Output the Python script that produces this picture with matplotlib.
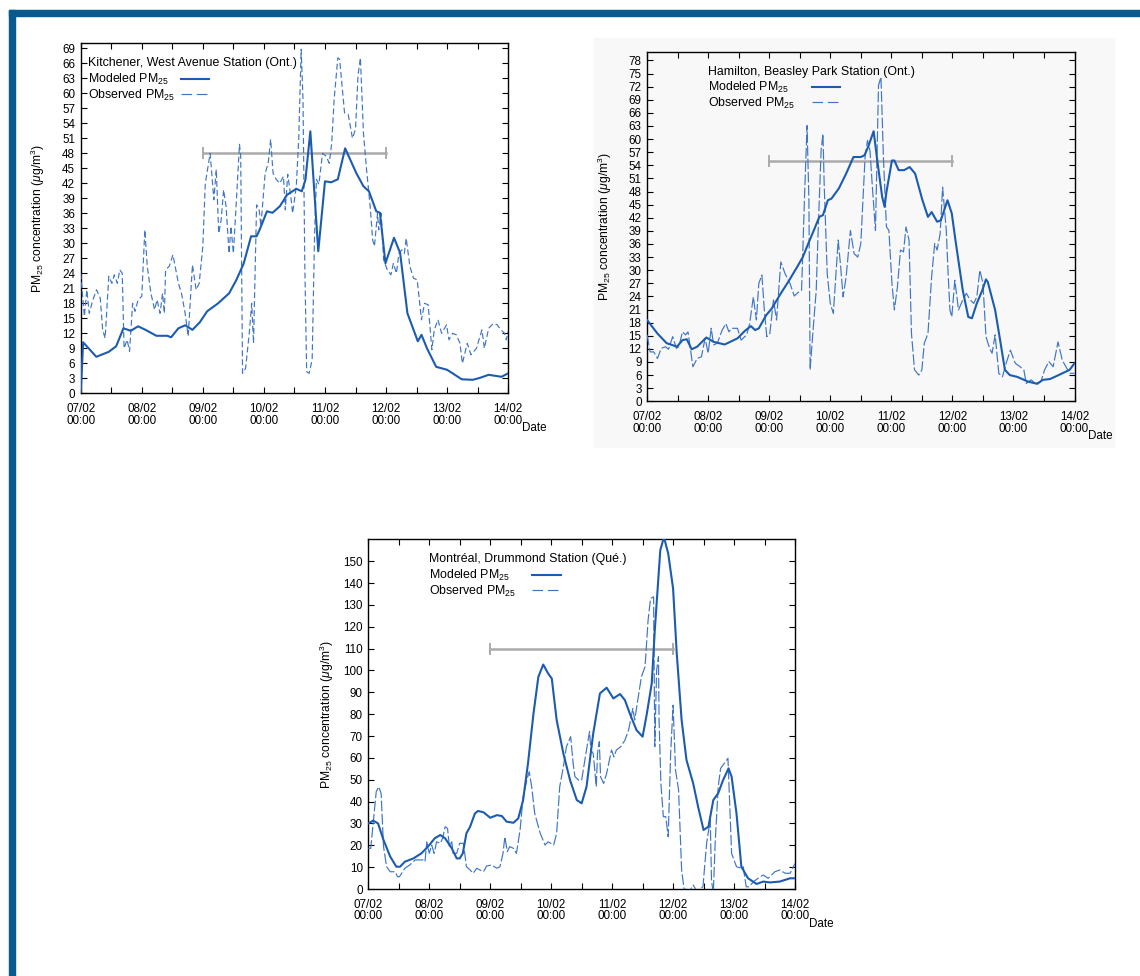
import matplotlib
matplotlib.use('Agg')
import matplotlib.pyplot as plt
from matplotlib.patches import Rectangle

plt.rcParams['font.family'] = ['Liberation Sans', 'DejaVu Sans']
plt.rcParams['mathtext.fontset'] = 'custom'
plt.rcParams['mathtext.rm'] = 'Liberation Sans'
plt.rcParams['mathtext.it'] = 'Liberation Sans:italic'
plt.rcParams['mathtext.default'] = 'regular'

# ---------------- data (time in days since 07/02 00:00) ----------------
day_ticks = [0, 1, 2, 3, 4, 5, 6, 7]
day_labels = ['07/02\n00:00', '08/02\n00:00', '09/02\n00:00', '10/02\n00:00',
              '11/02\n00:00', '12/02\n00:00', '13/02\n00:00', '14/02\n00:00']
half_day_ticks = [0.5, 1.5, 2.5, 3.5, 4.5, 5.5, 6.5]

bar_start = 2.0
bar_end = 5.0

# Kitchener
kit_title = 'Kitchener, West Avenue Station (Ont.)'
kit_yticks = list(range(0, 70, 3))
kit_ymax = 70
kit_bar = 48
kit_mod_t = [0, 0.04, 0.256, 0.46, 0.58, 0.70, 0.82, 0.94, 1.06, 1.24, 1.42, 1.48, 1.60, 1.71,
             1.83, 1.95, 2.07, 2.25, 2.43, 2.55, 2.67, 2.79, 2.88, 2.93, 3.05, 3.14, 3.26,
             3.38, 3.53, 3.62, 3.68, 3.76, 3.89, 4.00, 4.10, 4.21, 4.33, 4.51, 4.63, 4.72,
             4.84, 4.90, 4.99, 5.13, 5.23, 5.35, 5.52, 5.58, 5.67, 5.82, 6.00, 6.24, 6.42,
             6.54, 6.68, 6.89, 7.0]
kit_mod_v = [0, 10.2, 7.3, 8.3, 9.4, 13.0, 12.5, 13.4, 12.7, 11.5, 11.5, 11.2, 13.0, 13.6,
             12.7, 14.2, 16.4, 18.0, 20.0, 22.7, 26.0, 31.4, 31.4, 32.7, 36.4, 36.1, 37.4,
             39.7, 40.9, 40.4, 42.7, 52.4, 28.4, 42.4, 42.2, 42.8, 49.0, 44.1, 41.4, 40.4,
             36.4, 36.1, 26.0, 31.1, 28.1, 16.0, 10.4, 11.7, 9.0, 5.3, 4.7, 2.8, 2.7,
             3.1, 3.7, 3.3, 4.0]
kit_obs_t = [0, 0.06, 0.10, 0.14, 0.20, 0.26, 0.32, 0.36, 0.40, 0.46, 0.51, 0.55, 0.60, 0.64,
             0.68, 0.71, 0.76, 0.80, 0.85, 0.89, 0.94, 1.00, 1.05, 1.09, 1.15, 1.21, 1.25,
             1.30, 1.34, 1.37, 1.39, 1.45, 1.51, 1.60, 1.65, 1.71, 1.76, 1.83, 1.89, 1.94,
             2.00, 2.04, 2.12, 2.18, 2.22, 2.26, 2.30, 2.34, 2.38, 2.43, 2.46, 2.50, 2.55,
             2.60, 2.62, 2.65, 2.70, 2.76, 2.80, 2.83, 2.88, 2.92, 2.95, 3.02, 3.07, 3.11,
             3.15, 3.20, 3.26, 3.32, 3.35, 3.39, 3.44, 3.47, 3.53, 3.57, 3.61, 3.64, 3.67,
             3.70, 3.74, 3.79, 3.83, 3.86, 3.90, 3.96, 4.02, 4.07, 4.11, 4.15, 4.21, 4.24,
             4.32, 4.38, 4.45, 4.50, 4.54, 4.58, 4.63, 4.68, 4.74, 4.78, 4.81, 4.86, 4.88,
             4.92, 4.96, 5.02, 5.08, 5.12, 5.17, 5.21, 5.26, 5.30, 5.33, 5.39, 5.45, 5.51,
             5.58, 5.63, 5.69, 5.75, 5.79, 5.85, 5.91, 5.99, 6.03, 6.09, 6.15, 6.21, 6.25,
             6.33, 6.39, 6.48, 6.57, 6.61, 6.68, 6.76, 6.82, 6.88, 6.94, 6.97, 7.0]
kit_obs_v = [24, 15.4, 20.7, 16, 18.7, 20.7, 19, 12.7, 11, 23.4, 22, 23.7, 22, 24.7,
             24, 9, 10.7, 8.4, 18, 16.4, 18.7, 19.4, 32.7, 25.4, 20, 16.7, 18.7,
             16, 20, 16, 24.7, 25.4, 27.7, 22, 20, 16, 11.4, 25.7, 20.7, 22,
             29.4, 42, 48, 38.7, 44.8, 32, 34.7, 40.7, 37.4, 28, 33.4, 28, 38.7,
             49.8, 47.4, 4, 5, 12, 18, 10, 37.7, 37, 33.4, 44, 46, 50.8,
             44, 42.8, 42, 43.4, 36.7, 43.8, 39.4, 36, 41.4, 50.8, 68.8, 58.8, 25.4,
             4.3, 4, 6.7, 32, 42.8, 41.8, 48, 47.4, 46, 50, 58.8, 67.1, 66.8,
             56.1, 55.8, 51, 52.8, 63.5, 67.1, 52, 44.8, 37.4, 30.7, 29.4, 36, 32.7,
             36, 26.7, 24.7, 23.7, 26, 24, 28, 28.7, 28, 31, 25.4, 23, 22.7,
             14.7, 18, 17.7, 8.7, 12.7, 14.7, 12, 13.7, 10.7, 12, 11.7, 10, 6,
             10, 7.7, 9, 12.7, 9, 13, 14, 13.7, 12.7, 12, 10.7, 12.4]

# Hamilton
ham_title = 'Hamilton, Beasley Park Station (Ont.)'
ham_yticks = list(range(0, 79, 3))
ham_ymax = 80
ham_bar = 55
ham_mod_t = [0, 0.17, 0.32, 0.49, 0.58, 0.65, 0.73, 0.82, 0.97, 1.09, 1.27, 1.48, 1.60, 1.70,
             1.77, 1.83, 1.95, 2.04, 2.19, 2.31, 2.46, 2.55, 2.64, 2.73, 2.82, 2.88, 2.96,
             3.02, 3.14, 3.26, 3.38, 3.50, 3.56, 3.62, 3.71, 3.77, 3.85, 3.89, 3.92, 4.01,
             4.05, 4.12, 4.21, 4.30, 4.39, 4.51, 4.60, 4.66, 4.75, 4.81, 4.92, 4.99, 5.05,
             5.17, 5.26, 5.32, 5.40, 5.49, 5.55, 5.58, 5.70, 5.79, 5.86, 5.94, 6.06, 6.24,
             6.39, 6.48, 6.60, 6.74, 6.92, 7.0]
ham_mod_v = [18.6, 15.5, 13.3, 12.5, 14, 14.2, 11.9, 12.5, 14.6, 13.6, 13, 14.4, 16.1, 17.2,
             16.3, 16.7, 19.7, 21.2, 24.7, 27.3, 30.8, 33, 36.1, 39.1, 42.2, 42.6, 46,
             46.4, 48.7, 52.1, 55.9, 55.9, 56.3, 58.2, 61.8, 55.1, 46.8, 44.5, 47.9, 55.1,
             55.1, 52.9, 52.9, 53.6, 52.1, 46, 42.2, 43.3, 41.1, 41.4, 46, 43, 36.9,
             25.4, 19.3, 19, 22.4, 25.4, 27.9, 27.3, 20.9, 13.3, 7.2, 6, 5.6, 4.5,
             4, 4.9, 5.1, 6, 7.2, 8.7]
ham_obs_t = [0, 0.05, 0.11, 0.17, 0.23, 0.30, 0.35, 0.42, 0.48, 0.52, 0.58, 0.63, 0.67, 0.75,
             0.82, 0.89, 0.95, 1.00, 1.05, 1.09, 1.15, 1.23, 1.29, 1.34, 1.39, 1.48, 1.54,
             1.63, 1.68, 1.74, 1.79, 1.83, 1.88, 1.92, 1.96, 2.01, 2.07, 2.12, 2.19, 2.26,
             2.34, 2.41, 2.49, 2.53, 2.58, 2.62, 2.65, 2.67, 2.71, 2.77, 2.80, 2.85, 2.88,
             2.90, 2.95, 3.00, 3.05, 3.10, 3.13, 3.17, 3.21, 3.26, 3.33, 3.39, 3.45, 3.50,
             3.57, 3.61, 3.65, 3.69, 3.74, 3.79, 3.83, 3.87, 3.92, 3.96, 4.01, 4.05, 4.10,
             4.15, 4.20, 4.24, 4.29, 4.33, 4.38, 4.45, 4.50, 4.54, 4.60, 4.66, 4.71, 4.75,
             4.80, 4.84, 4.90, 4.93, 4.96, 4.99, 5.04, 5.10, 5.17, 5.23, 5.29, 5.35, 5.40,
             5.45, 5.50, 5.55, 5.61, 5.65, 5.70, 5.76, 5.82, 5.88, 5.95, 6.03, 6.11, 6.17,
             6.21, 6.29, 6.36, 6.45, 6.51, 6.58, 6.65, 6.73, 6.80, 6.86, 6.92, 7.0]
ham_obs_v = [15.2, 11.3, 11.3, 9.8, 12.1, 12.5, 11.9, 14.8, 12.1, 12.5, 15.9, 15.2, 15.9, 7.9,
             9.8, 10.2, 14.4, 11, 16.7, 12.9, 13.3, 16.3, 17.8, 15.9, 16.7, 16.7, 14,
             15.2, 17.8, 23.9, 18.6, 27, 28.9, 20.9, 14.8, 15.5, 23.2, 18.6, 31.9, 29.2,
             27, 24.1, 25.1, 25.4, 47.5, 63.1, 46, 7.2, 14.8, 25.4, 38.4, 57.4, 61.2,
             49.8, 29.2, 22.4, 20.1, 30.8, 36.9, 30.8, 23.9, 28.5, 39.1, 33.8, 33, 36.1,
             55.9, 59.7, 57.4, 49, 39.1, 72.3, 74.2, 55.9, 39.9, 39.1, 27, 20.9, 26.2,
             34.6, 34.2, 39.9, 36.9, 15.5, 7.2, 6, 7.2, 13.3, 15.5, 28.5, 36.1, 34.6,
             38.4, 49, 39.1, 29.2, 20.9, 19.3, 27.7, 20.9, 23.2, 24.7, 23.2, 22.4, 23.9,
             30, 27, 14.8, 12.1, 11, 15.2, 6.4, 5.6, 8.7, 11.7, 8.7, 7.9, 7.2,
             4.1, 4.9, 4.1, 4.5, 7.2, 9.1, 7.9, 13.6, 9.4, 7.9, 6.4, 6.4]

# Montreal
mtl_title = 'Montréal, Drummond Station (Qué.)'
mtl_yticks = list(range(0, 151, 10))
mtl_ymax = 160
mtl_bar = 110
mtl_mod_t = [0, 0.08, 0.16, 0.25, 0.36, 0.46, 0.52, 0.60, 0.74, 0.87, 0.98, 1.09, 1.18, 1.26,
             1.37, 1.45, 1.50, 1.55, 1.61, 1.67, 1.75, 1.80, 1.89, 2.00, 2.11, 2.19, 2.27,
             2.38, 2.46, 2.54, 2.62, 2.71, 2.79, 2.87, 2.95, 3.01, 3.09, 3.20, 3.31, 3.42,
             3.50, 3.58, 3.69, 3.80, 3.91, 4.02, 4.13, 4.21, 4.29, 4.40, 4.50, 4.57, 4.65,
             4.70, 4.79, 4.85, 4.92, 5.00, 5.06, 5.14, 5.22, 5.33, 5.41, 5.50, 5.58, 5.66,
             5.74, 5.82, 5.91, 5.96, 6.04, 6.12, 6.23, 6.37, 6.48, 6.59, 6.75, 6.92, 7.0]
mtl_mod_v = [30, 31.3, 30, 22.4, 14.8, 10.2, 10.2, 12.5, 14, 16.3, 19.4, 23.2, 24.7, 23.2,
             18.6, 14, 14, 16.3, 25.5, 28.5, 34.6, 35.7, 35.1, 32.6, 33.8, 33.4, 30.8,
             30.3, 32.3, 40.7, 57.5, 80.3, 97.1, 102.7, 98.6, 96.3, 77.3, 62, 49.8, 40.7,
             39.2, 46.8, 71.2, 89.5, 92.1, 87.2, 89.2, 86.4, 80.3, 72.7, 69.7, 80.3, 94.1,
             118.4, 155, 161, 153.5, 137.5, 107.8, 77.3, 59, 48.3, 37.7, 27, 28.5, 40.7,
             43.8, 49.8, 55.2, 51.4, 34.6, 10.2, 4.9, 2.3, 3.4, 3, 3.4, 4.9, 4.9]
mtl_obs_t = [0, 0.04, 0.08, 0.13, 0.17, 0.21, 0.25, 0.30, 0.36, 0.44, 0.48, 0.51, 0.60, 0.68,
             0.77, 0.90, 0.93, 0.96, 1.00, 1.04, 1.08, 1.12, 1.18, 1.22, 1.26, 1.30, 1.33,
             1.37, 1.39, 1.45, 1.50, 1.56, 1.61, 1.67, 1.72, 1.78, 1.83, 1.89, 1.94, 2.02,
             2.11, 2.16, 2.21, 2.24, 2.28, 2.32, 2.38, 2.43, 2.49, 2.54, 2.60, 2.64, 2.68,
             2.73, 2.82, 2.90, 2.95, 3.04, 3.09, 3.14, 3.20, 3.25, 3.32, 3.36, 3.39, 3.45,
             3.50, 3.57, 3.63, 3.65, 3.69, 3.74, 3.76, 3.79, 3.81, 3.86, 3.91, 3.99, 4.03,
             4.07, 4.14, 4.21, 4.27, 4.34, 4.37, 4.43, 4.48, 4.54, 4.59, 4.63, 4.68, 4.70,
             4.73, 4.76, 4.77, 4.80, 4.84, 4.88, 4.92, 4.96, 5.00, 5.04, 5.09, 5.14, 5.18,
             5.28, 5.33, 5.39, 5.49, 5.55, 5.61, 5.63, 5.66, 5.69, 5.74, 5.78, 5.88, 5.90,
             5.94, 5.96, 6.04, 6.12, 6.15, 6.20, 6.25, 6.32, 6.43, 6.48, 6.56, 6.67, 6.75,
             6.84, 6.92, 6.96, 7.0]
mtl_obs_v = [18.6, 18.6, 30, 44.5, 46.8, 43.8, 19.4, 10.2, 7.9, 7.9, 5.6, 5.6, 9.5, 11,
             13.3, 13.3, 12.5, 21.6, 16.3, 20.1, 16.3, 21.6, 20.9, 23.2, 28.5, 27.7, 19.4,
             21.6, 16.3, 16.3, 20.9, 20.9, 10.2, 8.7, 7.2, 9.5, 8.7, 7.9, 10.5, 11,
             9.5, 10.2, 16.3, 23.9, 17.1, 19.4, 18.6, 16.3, 27, 42.2, 49.8, 53.7, 46.8,
             34.6, 25.5, 20.1, 21.6, 20.1, 25.5, 46.8, 55.9, 65.1, 69.7, 57.5, 51.4, 49.8,
             49.8, 62, 72.1, 63.6, 62, 46.8, 62, 67.4, 51.4, 48.3, 52.9, 63.6, 60.5,
             63.6, 65.1, 68.1, 72.7, 82.6, 77.3, 88, 97.1, 101.7, 123, 132.9, 133.7, 65.1,
             100.2, 106.3, 77.3, 48.3, 33.1, 33.1, 23.9, 62, 84.1, 54.4, 45.3, 8.7, 0,
             -0.5, 1.8, -1, 1, 20.9, 31.6, 4, -2, 20.9, 46.8, 55.2, 59, 59.8,
             31.6, 16.3, 10.2, 9.5, 10.2, 1, 1, 3.4, 5.6, 6.4, 4.9, 7.9, 8.7,
             7.2, 7.2, 9.5, 11.7]

# ---------------- styling ----------------
MOD_COLOR = '#1c5cb0'
OBS_COLOR = '#3f75c6'
BAR_COLOR = '#ababab'
FRAME_BLUE = '#07598e'
TICK_FS = 8.4
TEXT_FS = 8.9

W, H = 1140, 976
fig = plt.figure(figsize=(W / 100, H / 100), dpi=100)
fig.patch.set_facecolor('white')


def px_rect(left, top, right, bottom):
    return [left / W, (H - bottom) / H, (right - left) / W, (bottom - top) / H]


# decorative blue frame (top and left)
fig.patches.append(Rectangle((9 / W, (H - 15.5) / H), 1 - 9 / W, 5.5 / H,
                             transform=fig.transFigure, color=FRAME_BLUE, zorder=-1))
fig.patches.append(Rectangle((9 / W, 0), 5.5 / W, (H - 10) / H,
                             transform=fig.transFigure, color=FRAME_BLUE, zorder=-1))
# faint backdrop of the pasted Hamilton figure
hb = px_rect(594, 38, 1114, 447)
fig.patches.append(Rectangle((hb[0], hb[1]), hb[2], hb[3], transform=fig.transFigure,
                             color='#f8f8f8', zorder=-2))

ylabel = r'PM$_{25}$ concentration ($\mathit{\mu}$g/m$^3$)'
leg_mod = r'Modeled PM$_{25}$'
leg_obs = r'Observed PM$_{25}$'

panels = [
    dict(rect=px_rect(80.7, 43.3, 508.2, 393.3), title=kit_title,
         mt=kit_mod_t, mv=kit_mod_v, ot=kit_obs_t, ov=kit_obs_v,
         yticks=kit_yticks, ymax=kit_ymax, bar=kit_bar, dash=(5, 2.6),
         tx=0.017, lx=(0.234, 0.300), ylx=-0.099, face='white'),
    dict(rect=px_rect(647.1, 51.7, 1074.5, 401.3), title=ham_title,
         mt=ham_mod_t, mv=ham_mod_v, ot=ham_obs_t, ov=ham_obs_v,
         yticks=ham_yticks, ymax=ham_ymax, bar=ham_bar, dash=(9, 2.2),
         tx=0.1425, lx=(0.385, 0.451), ylx=-0.0997, face='none'),
    dict(rect=px_rect(368.3, 539.3, 795.0, 889.0), title=mtl_title,
         mt=mtl_mod_t, mv=mtl_mod_v, ot=mtl_obs_t, ov=mtl_obs_v,
         yticks=mtl_yticks, ymax=mtl_ymax, bar=mtl_bar, dash=(9, 2.2),
         tx=0.143, lx=(0.384, 0.451), ylx=-0.0975, face='white'),
]

for p in panels:
    ax = fig.add_axes(p['rect'])
    ax.set_zorder(1)
    ax.set_facecolor(p['face'])
    ax.plot(p['ot'], p['ov'], color=OBS_COLOR, lw=0.85, linestyle=(0, p['dash']), zorder=3)
    ax.plot(p['mt'], p['mv'], color=MOD_COLOR, lw=1.5, zorder=4,
            solid_joinstyle='round')
    ax.plot([bar_start, bar_end], [p['bar'], p['bar']], color=BAR_COLOR, lw=1.8,
            marker='|', markersize=8, mew=1.4, zorder=2)

    ax.set_xlim(0, 7)
    ax.set_ylim(0, p['ymax'])
    ax.set_xticks(day_ticks)
    ax.set_xticklabels(day_labels, fontsize=TICK_FS, linespacing=0.95)
    ax.set_xticks(half_day_ticks, minor=True)
    ax.set_yticks(p['yticks'])
    ax.set_yticklabels([str(v) for v in p['yticks']], fontsize=TICK_FS)
    ax.tick_params(which='both', direction='in', top=True, right=True,
                   length=4, width=0.8, color='black')
    ax.tick_params(axis='x', which='major', pad=7)
    ax.tick_params(axis='y', which='major', pad=4)
    for s in ax.spines.values():
        s.set_linewidth(1.0)
        s.set_color('black')

    # legend block
    ax.text(p['tx'], 0.943, p['title'], transform=ax.transAxes, fontsize=TEXT_FS,
            ha='left', va='center')
    ax.text(p['tx'], 0.897, leg_mod, transform=ax.transAxes, fontsize=TEXT_FS,
            ha='left', va='center')
    ax.text(p['tx'], 0.852, leg_obs, transform=ax.transAxes, fontsize=TEXT_FS,
            ha='left', va='center')
    ax.plot(p['lx'], [0.899, 0.899], transform=ax.transAxes, color=MOD_COLOR, lw=1.5)
    ax.plot(p['lx'], [0.855, 0.855], transform=ax.transAxes, color=OBS_COLOR, lw=0.85,
            linestyle=(0, (9, 4)))

    ax.text(p['ylx'], 0.5, ylabel, transform=ax.transAxes, rotation=90,
            ha='center', va='center', fontsize=8.7)
    ax.text(1 + 26 / 427, -35 / 350, 'Date', transform=ax.transAxes,
            ha='center', va='center', fontsize=TICK_FS)

fig.savefig('out.png', dpi=100)
